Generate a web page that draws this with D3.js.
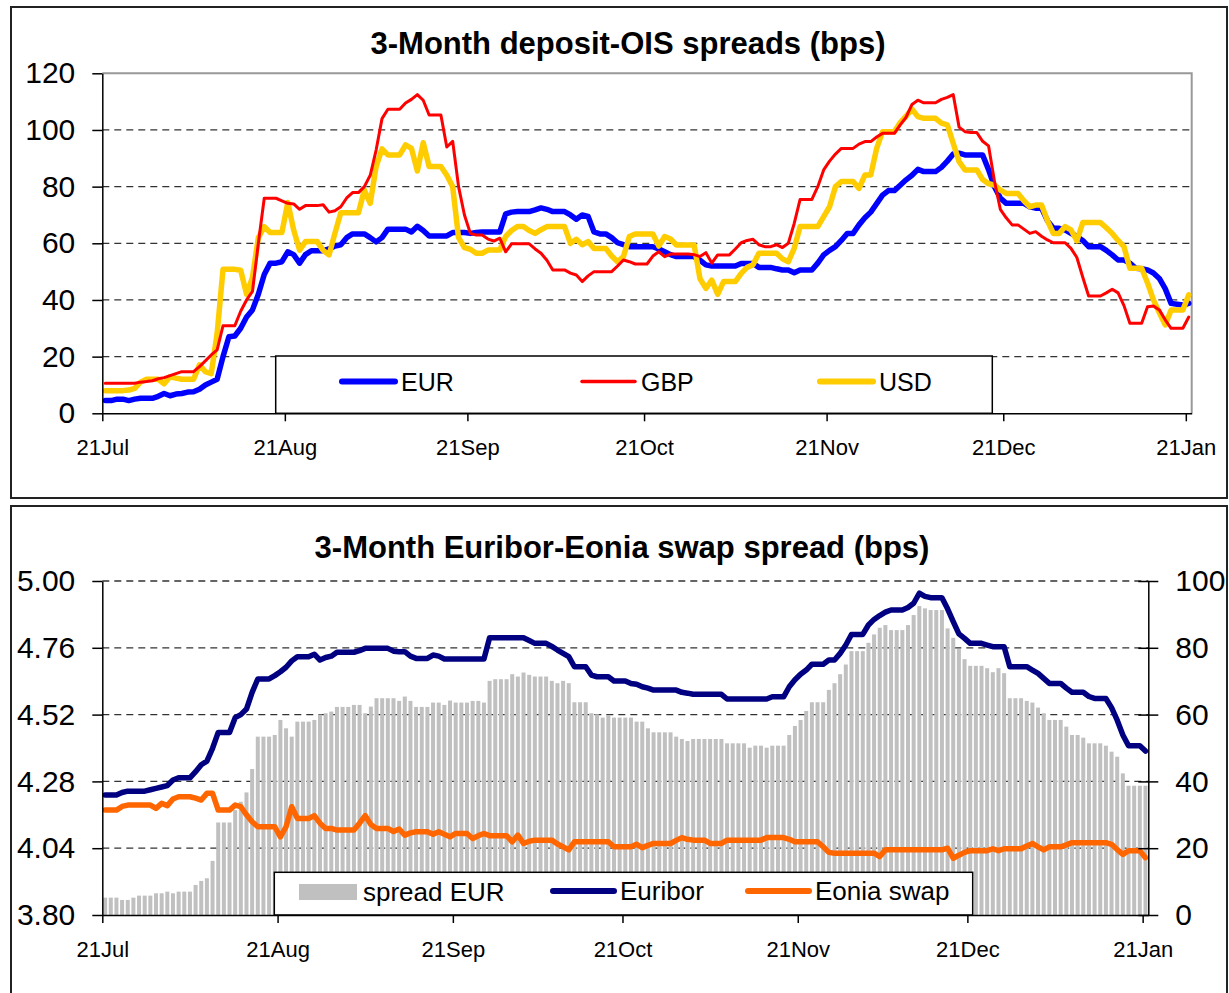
<!DOCTYPE html>
<html>
<head>
<meta charset="utf-8">
<script src="https://cdn.jsdelivr.net/npm/d3@7"></script>
<style>
  body { margin: 0; background: #fff; }
  svg { display: block; font-family: "Liberation Sans", Arial, sans-serif; }
</style>
</head>
<body>
<div id="chart"></div>
<script>
// date axis: tick labels and their day offsets from 21 Jul
const tickLabels = ["21Jul", "21Aug", "21Sep", "21Oct", "21Nov", "21Dec", "21Jan"];
const tickDays = [0, 31, 62, 92, 123, 153, 184];

// top chart: 3-month deposit-OIS spreads (bps), one value per calendar day
const eur = [4.5,4.5,5,5,4.5,5,5.3,5.3,5.3,6,
  7,6.2,6.8,7,7.5,7.6,8.5,10,11,12,
  20,27,27.3,30,34,36.5,42,49,53,53,
  53.5,57,56,53,56,57.4,57.4,57.4,58,59,
  59.5,62,63.3,63.3,63.3,62,60.5,62,65,65,
  65,65,64,66,64.5,62.6,62.6,62.6,62.6,63.8,
  63.8,63.8,63.5,63.8,64,64,64,64,70.4,71,
  71.2,71.2,71.2,71.8,72.5,72,71.2,71.2,71.2,70,
  68.5,70,69.5,64,63.3,63.3,62,60.2,59.5,58.8,
  58.8,58.8,58.8,58.8,58,57,56,55.3,55.3,55.3,
  55.3,54,52.4,52,52,52,52,52,52.9,52.9,
  52.9,51.5,51.5,51.5,51,50.6,50.6,49.6,50.6,50.6,
  50.6,53,55.9,57.5,58.8,61,63.5,63.5,66.5,69,
  71,74,77,78.6,78.6,80.5,82.4,84,86.1,85.3,
  85.3,85.3,86.8,89,91.5,91.8,91.2,91.2,91.2,91.2,
  86,80,76,74.1,74.1,74.1,74.1,72.9,72.4,72.4,
  68,65.3,65.3,64.7,63.5,62.4,61,58.8,58.8,58.8,
  57.5,55.9,54.1,54.1,53,51.2,51,50.6,49.5,47.6,
  44,38.8,38.5,38.2,38.8];
const gbp = [10.6,10.6,10.6,10.6,10.6,10.6,11,11.2,11.5,12.2,
  12.6,13.3,14,14.7,14.7,14.7,16.5,18.5,20.6,22.4,
  30.9,30.9,30.9,36,40,43,60,75.9,75.9,75.9,
  75,74.1,73.9,72,73.3,73.3,73.3,73.6,71,71.5,
  72.9,76,77.9,77.9,80,84,92.9,104,107.3,107.3,
  107.3,109.5,110.8,112.5,110.5,105.3,105.3,105.3,94,96,
  80,70,63.5,62.9,62.9,61.5,60.8,61.8,57,59.8,
  59.8,59.8,59.8,58,56.5,54,50.6,50.6,50.6,49.5,
  48.8,46.5,48.5,50,50,50,50,52,54.1,53.5,
  52.7,52.7,52.7,55.5,57,55.3,56.2,56.2,56.2,56.2,
  56,55.3,56.7,53,55.9,55.9,55.9,58,60.2,61,
  61.4,59.5,58.8,58.8,59.5,58.5,60,67,75.5,75.5,
  75.5,80,85.9,89,91.5,93.5,93.5,93.5,95,95.9,
  95.9,97.5,98.8,98.8,98.8,101.8,104.5,109,110.5,109.6,
  109.6,109.6,110.8,111.5,112.5,101,99.4,99.1,99.1,96,
  94.4,82,72,69,66.5,66.5,65,63.5,64.1,62.5,
  61.2,60.2,60.2,60.2,58.2,55,48,41.4,41.4,41.4,
  42.5,43.8,42.5,38,31.8,31.8,31.8,37.6,37.9,36.5,
  33,30,30,30,34];
const usd = [8,8,8,8,8.2,8.8,11,12,12,12,
  10.4,12.9,12.4,12,12,12,17.1,14.7,14,28.2,
  50.8,50.8,50.8,50.5,42,48,62,65.9,63.8,63.8,
  63.8,74.4,64.7,57.6,60.6,60.6,60.6,57.5,55.9,63.5,
  70.8,70.8,70.8,70.8,78.8,74.1,87.1,93.3,91.2,91.2,
  91.2,94.7,93.5,85.5,95.5,87.1,87.1,87.1,84,80,
  62,58.5,57.9,56.5,56.5,57.6,57.6,57.6,62.4,64.5,
  65.9,65.9,64.5,63.5,64.8,65.9,65.9,65.9,65.9,60,
  61.4,59.5,60.6,58.2,58.2,58.2,55.5,53.5,55.3,62.4,
  63.3,63.3,63.3,63.3,59,62.4,61.5,59.4,59.4,59.4,
  59.4,47.5,44.1,47,42,46.5,46.5,46.5,49.4,51.5,
  52.4,56.5,56.5,56.5,56.5,54.5,53.5,58.2,65.9,65.9,
  65.9,65.9,69.4,72.9,80,81.8,81.8,81.8,79.4,84.1,
  84.1,93.5,99.4,99.4,99.4,102.6,104.9,107.3,104.7,104.1,
  104.1,104.1,102.4,101.8,95.3,88.8,85.9,85.9,85.9,82.5,
  81,80.6,78.8,77.6,77.6,77.6,75,72.9,73.5,73.5,
  68,63.5,63.5,65.9,64.7,60.9,67.3,67.3,67.3,67.3,
  65.5,63.5,61,58.8,51.2,51.2,51.2,46,40,35.5,
  31.2,36.5,36.5,36.5,41.8];

// bottom chart: spread EUR (bps, right axis), Euribor and Eonia swap (%, left axis)
const spreadEur = [5.2,5.2,5.2,4.5,4.5,5.2,5.8,5.8,5.8,6.5,
  6.5,7,6.5,7,7,7,9,10.2,11,16.2,
  27.7,27.7,27.7,31.4,33.9,36.7,43.7,53.4,53.4,53.4,
  53.9,58.4,55.9,53.4,57.9,57.9,57.9,58.4,60,60.4,
  60.9,62.3,62.3,62.3,62.9,62.9,60.4,62.4,64.9,64.9,
  64.9,64.9,64.1,65.4,64.1,62.3,62.3,62.3,63.6,63.6,
  62.9,64.2,63.6,63.6,63.6,64.1,64.1,63.6,70.1,70.6,
  70.6,70.6,72.1,71.4,72.6,71.9,71.4,71.4,71.4,70.1,
  69.4,70.1,69.4,63.7,63.7,63.7,60.4,60.1,59.1,59.9,
  59.1,59.1,59.1,59.1,57.9,57.9,55.9,54.7,54.7,54.7,
  54.7,53.4,52.7,52.1,52.7,52.7,52.7,52.7,52.7,52.7,
  51.4,51.4,51.4,51.4,50.1,50.7,50.7,50.1,50.7,50.7,
  50.7,53.9,56.6,58.4,61.1,63.7,63.7,63.7,67.4,69.4,
  72.1,75,79,79,79,81.5,84,86,86.8,85.3,
  85.3,85.3,86.8,89.8,92.5,91.8,91.3,91.3,91.3,85.8,
  83,79.6,76.6,74.6,74.6,74.6,73.9,72.7,73.9,72.4,
  64.9,64.9,64.9,64.1,63.6,62.1,60.4,58.4,58.4,58.4,
  56.4,53.9,53.9,53.1,51.4,51.4,51.4,50.7,48.9,47.4,
  42.4,38.7,38.7,38.7,38.7];
const euribor = [4.231,4.231,4.231,4.24,4.245,4.245,4.245,4.245,4.25,4.255,
  4.26,4.265,4.285,4.293,4.293,4.293,4.315,4.34,4.353,4.399,
  4.456,4.456,4.456,4.509,4.52,4.54,4.6,4.648,4.648,4.648,
  4.66,4.674,4.69,4.713,4.728,4.728,4.728,4.737,4.716,4.725,
  4.73,4.744,4.744,4.744,4.744,4.75,4.758,4.758,4.758,4.758,
  4.758,4.748,4.746,4.746,4.73,4.722,4.722,4.722,4.734,4.73,
  4.72,4.72,4.72,4.72,4.72,4.72,4.72,4.72,4.796,4.796,
  4.796,4.796,4.796,4.796,4.796,4.786,4.776,4.776,4.776,4.765,
  4.752,4.74,4.728,4.692,4.692,4.692,4.662,4.656,4.656,4.656,
  4.641,4.641,4.641,4.632,4.629,4.62,4.615,4.608,4.608,4.608,
  4.608,4.608,4.6,4.597,4.593,4.593,4.593,4.593,4.593,4.593,
  4.576,4.576,4.576,4.576,4.576,4.576,4.576,4.576,4.584,4.584,
  4.584,4.62,4.645,4.665,4.68,4.701,4.701,4.701,4.716,4.716,
  4.74,4.77,4.808,4.808,4.808,4.842,4.862,4.876,4.888,4.896,
  4.896,4.896,4.905,4.92,4.956,4.945,4.94,4.94,4.94,4.9,
  4.854,4.81,4.794,4.776,4.776,4.776,4.77,4.764,4.764,4.764,
  4.692,4.692,4.692,4.692,4.68,4.668,4.65,4.632,4.632,4.632,
  4.615,4.6,4.6,4.6,4.585,4.578,4.578,4.578,4.545,4.5,
  4.447,4.408,4.408,4.408,4.389];
const eoniaSwap = [4.177,4.177,4.177,4.19,4.195,4.195,4.195,4.195,4.195,4.183,
  4.201,4.193,4.217,4.225,4.225,4.225,4.22,4.213,4.237,4.237,
  4.177,4.177,4.177,4.195,4.189,4.16,4.135,4.117,4.117,4.117,
  4.117,4.081,4.117,4.189,4.147,4.147,4.147,4.157,4.13,4.111,
  4.111,4.105,4.105,4.105,4.105,4.13,4.157,4.125,4.111,4.111,
  4.111,4.1,4.109,4.087,4.095,4.099,4.099,4.099,4.09,4.099,
  4.09,4.081,4.093,4.093,4.093,4.075,4.085,4.093,4.085,4.085,
  4.085,4.085,4.063,4.087,4.057,4.065,4.069,4.069,4.069,4.069,
  4.055,4.045,4.034,4.063,4.063,4.063,4.063,4.063,4.063,4.063,
  4.045,4.045,4.045,4.045,4.054,4.042,4.05,4.057,4.057,4.057,
  4.057,4.068,4.078,4.072,4.069,4.069,4.069,4.057,4.057,4.057,
  4.069,4.069,4.069,4.069,4.069,4.069,4.069,4.078,4.078,4.078,
  4.078,4.072,4.063,4.063,4.063,4.063,4.063,4.045,4.025,4.022,
  4.022,4.022,4.022,4.022,4.022,4.022,4.022,4.01,4.034,4.034,
  4.034,4.034,4.034,4.034,4.034,4.034,4.034,4.034,4.034,4.04,
  4.004,4.015,4.025,4.031,4.031,4.031,4.031,4.038,4.031,4.038,
  4.038,4.038,4.038,4.048,4.057,4.045,4.034,4.045,4.045,4.045,
  4.052,4.06,4.06,4.06,4.06,4.06,4.06,4.06,4.054,4.035,
  4.018,4.031,4.031,4.031,4.006];

// axis tick values
const topYTicks = [0, 20, 40, 60, 80, 100, 120];
const leftYTicks = [3.80, 4.04, 4.28, 4.52, 4.76, 5.00];
const rightYTicks = [0, 20, 40, 60, 80, 100];

const svg = d3.select("#chart").append("svg")
    .attr("width", 1229)
    .attr("height", 993);

const dash = "7,5";

function styleAxis(g) {
    g.selectAll("path.domain").attr("stroke", "#000").attr("stroke-width", 1.5);
    g.selectAll(".tick line").attr("stroke", "#000").attr("stroke-width", 1.5);
    g.selectAll("text").attr("fill", "#000").attr("font-family", null);
}

function dateAxis(g, x, yPos) {
    g.attr("transform", "translate(0," + yPos + ")")
        .call(d3.axisBottom(x)
            .tickValues(tickDays)
            .tickFormat((d, i) => tickLabels[i])
            .tickSize(8)
            .tickSizeOuter(0));
    styleAxis(g);
    g.selectAll("text").attr("font-size", 22).attr("y", 42).attr("dy", 0);
}

function legend(g, box, items, fontSize) {
    g.append("rect")
        .attr("x", box.x).attr("y", box.y)
        .attr("width", box.w).attr("height", box.h)
        .attr("fill", "#fff").attr("stroke", "#000").attr("stroke-width", 1.5);
    items.forEach((d) => {
        if (d.swatch) {
            g.append("rect")
                .attr("x", d.x0).attr("y", d.y - 8)
                .attr("width", d.x1 - d.x0).attr("height", 16)
                .attr("fill", d.color);
        } else {
            g.append("line")
                .attr("x1", d.x0).attr("x2", d.x1)
                .attr("y1", d.y).attr("y2", d.y)
                .attr("stroke", d.color).attr("stroke-width", d.width)
                .attr("stroke-linecap", "round");
        }
        g.append("text")
            .attr("x", d.x1 + 6).attr("y", d.y + 9)
            .attr("font-size", fontSize)
            .text(d.name);
    });
}

// ---------- top chart ----------
{
    const x = d3.scaleLinear().domain([0, 185]).range([102.3, 1191.7]);
    const y = d3.scaleLinear().domain([0, 120]).range([413.3, 73.3]);
    const g = svg.append("g");

    g.append("rect")
        .attr("x", 11).attr("y", 7).attr("width", 1216).attr("height", 491)
        .attr("fill", "none").attr("stroke", "#222").attr("stroke-width", 2);

    g.append("text")
        .attr("x", 628).attr("y", 54)
        .attr("text-anchor", "middle")
        .attr("font-size", 31).attr("font-weight", "bold")
        .text("3-Month deposit-OIS spreads (bps)");

    // plot area border (top and right), grey
    g.append("path")
        .attr("d", "M" + x(0) + "," + y(120) + "H" + x(185) + "V" + y(0))
        .attr("fill", "none").attr("stroke", "#999").attr("stroke-width", 2);

    g.selectAll(".grid")
        .data([20, 40, 60, 80, 100])
        .enter().append("line")
        .attr("x1", x(0)).attr("x2", x(185))
        .attr("y1", (d) => y(d)).attr("y2", (d) => y(d))
        .attr("stroke", "#333").attr("stroke-width", 1.3)
        .attr("stroke-dasharray", dash);

    const series = [
        {values: gbp, color: "#ff0000", width: 3},
        {values: usd, color: "#ffcc00", width: 5.5},
        {values: eur, color: "#0000ff", width: 5.5}
    ];
    const line = d3.line().x((d, i) => x(i + 0.5)).y((d) => y(d));
    // EUR drawn under the others where they cross, like the source
    [series[2], series[1], series[0]].forEach((s) => {
        g.append("path")
            .datum(s.values)
            .attr("d", line)
            .attr("fill", "none")
            .attr("stroke", s.color)
            .attr("stroke-width", s.width)
            .attr("stroke-linejoin", "round")
            .attr("stroke-linecap", "round");
    });

    legend(g, {x: 275.7, y: 356, w: 716.6, h: 57.3}, [
        {name: "EUR", color: "#0000ff", width: 6, x0: 342, x1: 395, y: 381.5},
        {name: "GBP", color: "#ff0000", width: 3.5, x0: 582, x1: 635, y: 381.5},
        {name: "USD", color: "#ffcc00", width: 6, x0: 820, x1: 873, y: 381.5}
    ], 25);

    const ay = g.append("g")
        .attr("transform", "translate(" + x(0) + ",0)")
        .call(d3.axisLeft(y).tickValues(topYTicks).tickSize(10).tickPadding(17).tickSizeOuter(0));
    styleAxis(ay);
    ay.selectAll("text").attr("font-size", 30);

    dateAxis(g.append("g"), x, y(0));
}

// ---------- bottom chart ----------
{
    const x = d3.scaleLinear().domain([0, 185]).range([102.3, 1148.3]);
    const yL = d3.scaleLinear().domain([3.80, 5.00]).range([915, 581]);
    const yR = d3.scaleLinear().domain([0, 100]).range([915, 581]);
    const g = svg.append("g");

    g.append("rect")
        .attr("x", 11).attr("y", 506).attr("width", 1216).attr("height", 520)
        .attr("fill", "none").attr("stroke", "#222").attr("stroke-width", 2);

    g.append("text")
        .attr("x", 622).attr("y", 558)
        .attr("text-anchor", "middle")
        .attr("font-size", 31).attr("font-weight", "bold")
        .text("3-Month Euribor-Eonia swap spread (bps)");

    g.selectAll(".grid")
        .data(leftYTicks.slice(1))
        .enter().append("line")
        .attr("x1", x(0)).attr("x2", x(185))
        .attr("y1", (d) => yL(d)).attr("y2", (d) => yL(d))
        .attr("stroke", "#333").attr("stroke-width", 1.3)
        .attr("stroke-dasharray", dash);

    g.selectAll(".bar")
        .data(spreadEur)
        .enter().append("rect")
        .attr("class", "bar")
        .attr("x", (d, i) => x(i + 0.5) - 2)
        .attr("width", 4)
        .attr("y", (d) => yR(d))
        .attr("height", (d) => yR(0) - yR(d))
        .attr("fill", "#c0c0c0");

    const line = d3.line().x((d, i) => x(i + 0.5)).y((d) => yL(d));
    [{values: euribor, color: "#000080"}, {values: eoniaSwap, color: "#ff6600"}].forEach((s) => {
        g.append("path")
            .datum(s.values)
            .attr("d", line)
            .attr("fill", "none")
            .attr("stroke", s.color)
            .attr("stroke-width", 5.5)
            .attr("stroke-linejoin", "round")
            .attr("stroke-linecap", "round");
    });

    legend(g, {x: 274.3, y: 872.3, w: 698.4, h: 42.7}, [
        {name: "spread EUR", color: "#c0c0c0", swatch: true, x0: 299, x1: 357, y: 892},
        {name: "Euribor", color: "#000080", width: 6, x0: 553, x1: 614, y: 891},
        {name: "Eonia swap", color: "#ff6600", width: 6, x0: 748, x1: 809, y: 891}
    ], 26);

    const al = g.append("g")
        .attr("transform", "translate(" + x(0) + ",0)")
        .call(d3.axisLeft(yL).tickValues(leftYTicks).tickFormat(d3.format(".2f"))
            .tickSize(10).tickPadding(17).tickSizeOuter(0));
    styleAxis(al);
    al.selectAll("text").attr("font-size", 30);

    const ar = g.append("g")
        .attr("transform", "translate(" + x(185) + ",0)")
        .call(d3.axisRight(yR).tickValues(rightYTicks).tickSize(10).tickPadding(17).tickSizeOuter(0));
    styleAxis(ar);
    ar.selectAll(".tick line").attr("x1", -10);
    ar.selectAll("text").attr("font-size", 30);

    dateAxis(g.append("g"), x, yL(3.80));
}
</script>
</body>
</html>
